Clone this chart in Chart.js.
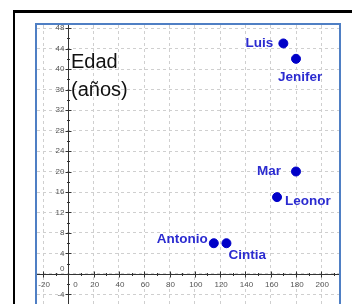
<!DOCTYPE html>
<html>
<head>
<meta charset="utf-8">
<script src="https://cdn.jsdelivr.net/npm/chart.js@4"></script>
<style>
  html, body { margin: 0; padding: 0; width: 352px; height: 304px; overflow: hidden; background: #fff; }
  #marco { position: absolute; left: 13px; top: 10px; width: 360px; height: 320px; border-left: 2px solid #000; border-top: 3px solid #000; }
  #vista { position: absolute; left: 35px; top: 23px; width: 302px; height: 300px; border: 2px solid #4f7fc4; }
  #caja { position: absolute; left: 37px; top: 25px; width: 302px; height: 292px; }
  #titulo { position: absolute; left: 71px; top: 47px; font: 20px "Liberation Sans", Arial, sans-serif; line-height: 28px; color: #111; }
</style>
</head>
<body>
<div id="marco"></div>
<div id="vista"></div>
<div id="caja"><canvas id="grafico"></canvas></div>
<div id="titulo">Edad<br>(años)</div>
<script>
// Personas: estatura (eje x) y edad en años (eje y)
const nombres = ["Luis", "Jenifer", "Mar", "Leonor", "Antonio", "Cintia"];
const valoresX = [170, 180, 180, 165, 115, 125];
const edades = [45, 42, 20, 15, 6, 6];
const marcasX = [-20, 0, 20, 40, 60, 80, 100, 120, 140, 160, 180, 200];
const marcasY = [-4, 0, 4, 8, 12, 16, 20, 24, 28, 32, 36, 40, 44, 48];

// Donde va cada nombre respecto a su punto
const ubicacion = {
    Luis: { dx: -10, dy: 0, align: "right" },
    Jenifer: { dx: -18, dy: 18, align: "left" },
    Mar: { dx: -15, dy: 0, align: "right" },
    Leonor: { dx: 8, dy: 4, align: "left" },
    Antonio: { dx: -6, dy: -4, align: "right" },
    Cintia: { dx: 2, dy: 12, align: "left" }
};

const puntos = valoresX.map((x, i) => ({ x: x, y: edades[i] }));

// Dibuja los ejes con sus marcas y numeros en x=0 e y=0
const ejes = {
    id: "ejes",
    beforeDatasetsDraw(chart) {
        const ctx = chart.ctx;
        const sx = chart.scales.x;
        const sy = chart.scales.y;
        const x0 = Math.round(sx.getPixelForValue(0)) + 0.5;
        const y0 = Math.round(sy.getPixelForValue(0)) + 0.5;
        const area = chart.chartArea;
        ctx.save();
        ctx.strokeStyle = "#333";
        ctx.lineWidth = 1;
        ctx.beginPath();
        ctx.moveTo(area.left, y0); ctx.lineTo(area.right, y0);
        ctx.moveTo(x0, area.top); ctx.lineTo(x0, area.bottom);
        ctx.stroke();

        ctx.font = "8px 'Liberation Sans', Arial, sans-serif";
        ctx.fillStyle = "#555";
        // marcas del eje x
        ctx.beginPath();
        marcasX.forEach(v => {
            const px = Math.round(sx.getPixelForValue(v)) + 0.5;
            ctx.moveTo(px, y0 - 3); ctx.lineTo(px, y0 + 3);
            const pm = Math.round(sx.getPixelForValue(v + 10)) + 0.5;
            ctx.moveTo(pm, y0 - 1.5); ctx.lineTo(pm, y0 + 1.5);
        });
        marcasY.forEach(v => {
            const py = Math.round(sy.getPixelForValue(v)) + 0.5;
            ctx.moveTo(x0 - 3, py); ctx.lineTo(x0 + 3, py);
            const pm = Math.round(sy.getPixelForValue(v + 2)) + 0.5;
            ctx.moveTo(x0 - 1.5, pm); ctx.lineTo(x0 + 1.5, pm);
        });
        ctx.stroke();

        ctx.textBaseline = "middle";
        ctx.textAlign = "center";
        marcasX.forEach(v => {
            const px = sx.getPixelForValue(v);
            ctx.fillText(String(v), v === 0 ? px + 7 : px + 1, y0 + 10);
        });
        ctx.textAlign = "right";
        marcasY.forEach(v => {
            const py = sy.getPixelForValue(v);
            ctx.fillText(String(v), x0 - 4, v === 0 ? py - 5 : py);
        });
        ctx.restore();
    },
    afterDatasetsDraw(chart) {
        const ctx = chart.ctx;
        const meta = chart.getDatasetMeta(0);
        ctx.save();
        ctx.font = "bold 13.5px 'Liberation Sans', Arial, sans-serif";
        ctx.fillStyle = "#2b2bd0";
        ctx.textBaseline = "middle";
        meta.data.forEach((el, i) => {
            const u = ubicacion[nombres[i]];
            ctx.textAlign = u.align;
            ctx.fillText(nombres[i], el.x + u.dx, el.y + u.dy);
        });
        ctx.restore();
    }
};

new Chart(document.getElementById("grafico").getContext("2d"), {
    type: "scatter",
    data: {
        datasets: [{
            data: puntos,
            backgroundColor: "#0000c8",
            borderColor: "#0000c8",
            pointRadius: 4.5,
            pointHoverRadius: 4.5
        }]
    },
    options: {
        responsive: true,
        maintainAspectRatio: false,
        animation: false,
        layout: { padding: 0, autoPadding: false },
        plugins: { legend: { display: false }, tooltip: { enabled: false } },
        scales: {
            x: {
                min: -24.8,
                max: 214,
                border: { display: false, dash: [3, 3] },
                grid: { color: "#cfcfcf", drawTicks: false },
                ticks: { display: false, stepSize: 20, includeBounds: false }
            },
            y: {
                min: -8.4,
                max: 48.6,
                border: { display: false, dash: [3, 3] },
                grid: { color: "#cfcfcf", drawTicks: false },
                ticks: { display: false, stepSize: 4, includeBounds: false }
            }
        }
    },
    plugins: [ejes]
});
</script>
</body>
</html>
